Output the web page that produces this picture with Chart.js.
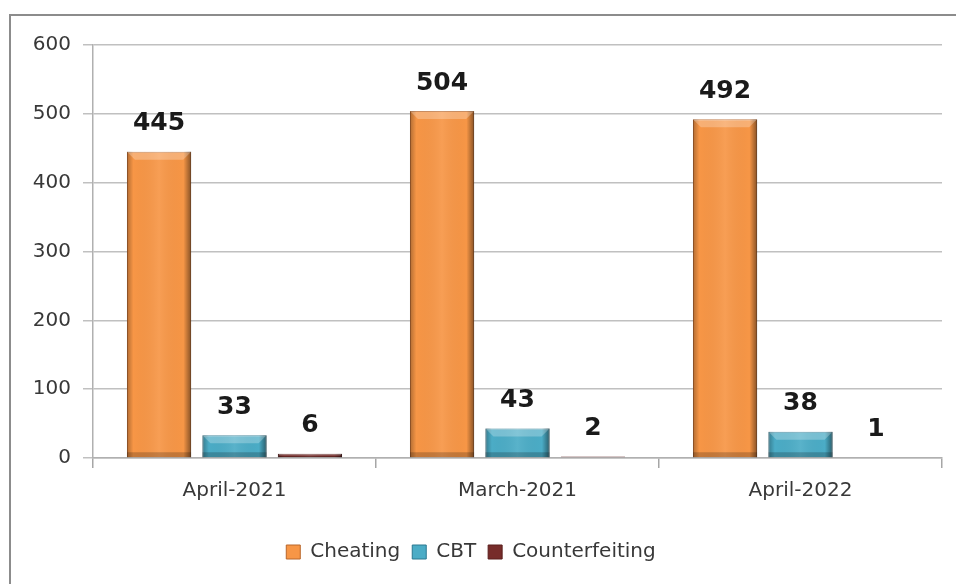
<!DOCTYPE html>
<html>
<head>
<meta charset="utf-8">
<script src="https://cdn.jsdelivr.net/npm/chart.js@4.4.1/dist/chart.umd.min.js"></script>
<style>
    html, body { margin: 0; padding: 0; background: #fff; overflow: hidden; }
    #wrap { position: relative; width: 956px; height: 584px; }
    #frame { position: absolute; left: 9px; top: 14px; width: 1000px; height: 700px;
             border: 2px solid #8c8c8c; pointer-events: none; }
    canvas { position: absolute; left: 0; top: 0; }
</style>
</head>
<body>
<div id="wrap">
    <canvas id="chart" width="956" height="584"></canvas>
    <div id="frame"></div>
</div>
<script>
// data
const categories = ['April-2021', 'March-2021', 'April-2022'];
const cheating = [445, 504, 492];
const cbt = [33, 43, 38];
const counterfeiting = [6, 2, 1];
const yTicks = [0, 100, 200, 300, 400, 500, 600];

const FONT = '"DejaVu Sans", sans-serif';

// value labels above the bars
const valueLabels = {
    id: 'valueLabels',
    afterDatasetsDraw(chart) {
        const ctx = chart.ctx;
        ctx.save();
        ctx.font = 'bold 25px ' + FONT;
        ctx.fillStyle = '#1a1a1a';
        ctx.textAlign = 'center';
        ctx.textBaseline = 'middle';
        chart.data.datasets.forEach((ds, i) => {
            chart.getDatasetMeta(i).data.forEach((bar, j) => {
                ctx.fillText(ds.data[j], bar.x, bar.y - 28);
            });
        });
        ctx.restore();
    }
};

// simple bevel shading on top of each bar
const barShade = {
    id: 'barShade',
    afterDatasetsDraw(chart) {
        const ctx = chart.ctx;
        ctx.save();
        chart.data.datasets.forEach((ds, i) => {
            chart.getDatasetMeta(i).data.forEach(bar => {
                const left = bar.x - bar.width / 2;
                const h = bar.base - bar.y;
                if (h < 2) return;
                const g = ctx.createLinearGradient(left, 0, left + bar.width, 0);
                g.addColorStop(0, 'rgba(0,0,0,0.28)');
                g.addColorStop(0.1, 'rgba(0,0,0,0)');
                g.addColorStop(0.5, 'rgba(255,255,255,0.08)');
                g.addColorStop(0.88, 'rgba(0,0,0,0)');
                g.addColorStop(1, 'rgba(0,0,0,0.45)');
                ctx.fillStyle = g;
                ctx.fillRect(left, bar.y, bar.width, h);
                const bev = Math.min(8, h / 2);
                ctx.fillStyle = 'rgba(255,255,255,0.25)';
                ctx.beginPath();
                ctx.moveTo(left, bar.y);
                ctx.lineTo(left + bar.width, bar.y);
                ctx.lineTo(left + bar.width - bev, bar.y + bev);
                ctx.lineTo(left + bev, bar.y + bev);
                ctx.closePath();
                ctx.fill();
                ctx.fillStyle = 'rgba(0,0,0,0.20)';
                ctx.fillRect(left, bar.base - Math.min(5, h / 3), bar.width, Math.min(5, h / 3));
            });
        });
        ctx.restore();
    }
};

new Chart(document.getElementById('chart'), {
    type: 'bar',
    data: {
        labels: categories,
        datasets: [
            { label: 'Cheating', data: cheating, backgroundColor: '#F79646', borderColor: '#b8662a', borderWidth: 1 },
            { label: 'CBT', data: cbt, backgroundColor: '#4BACC6', borderColor: '#2a7890', borderWidth: 1 },
            { label: 'Counterfeiting', data: counterfeiting, backgroundColor: '#772C2A', borderColor: '#5a1e1c', borderWidth: 1 }
        ]
    },
    options: {
        responsive: false,
        animation: false,
        devicePixelRatio: 1,
        datasets: { bar: { categoryPercentage: 0.8, barPercentage: 0.85 } },
        layout: { padding: { left: 0, right: 14, top: 45, bottom: 12 } },
        scales: {
            x: {
                afterFit(scale) { scale.height = 72; },
                grid: { offset: true, drawOnChartArea: false, drawTicks: true, tickLength: 10, color: '#a6a6a6', lineWidth: 1.5 },
                border: { color: '#b0b0b0', width: 1.5 },
                ticks: { color: '#383838', font: { family: FONT, size: 20 }, padding: 11 }
            },
            y: {
                min: 0,
                max: 600,
                afterFit(scale) { scale.width = 93; },
                afterBuildTicks(scale) { scale.ticks = yTicks.map(v => ({ value: v })); },
                grid: { color: '#c0c0c0', lineWidth: 1.5, tickLength: 10 },
                border: { color: '#b0b0b0', width: 1.5 },
                ticks: { color: '#383838', font: { family: FONT, size: 20 }, padding: 12 }
            }
        },
        plugins: {
            legend: {
                position: 'bottom',
                labels: {
                    color: '#383838',
                    font: { family: FONT, size: 20 },
                    boxWidth: 14,
                    boxHeight: 14,
                    padding: 12
                }
            },
            tooltip: { enabled: false }
        }
    },
    plugins: [barShade, valueLabels]
});
</script>
</body>
</html>
